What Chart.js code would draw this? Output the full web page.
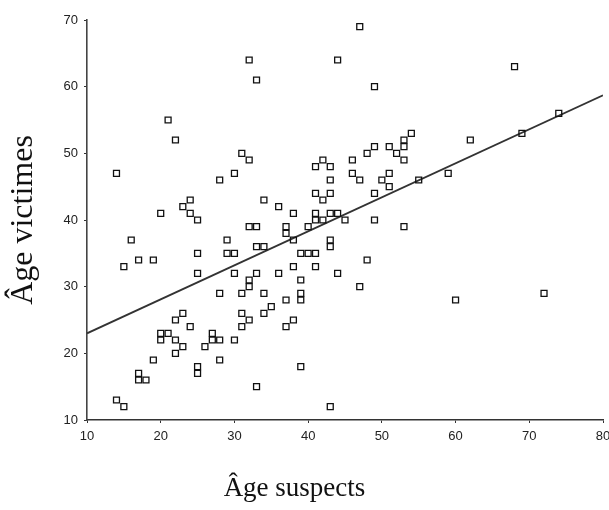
<!DOCTYPE html>
<html>
<head>
<meta charset="utf-8">
<script src="https://cdn.jsdelivr.net/npm/chart.js@4/dist/chart.umd.min.js"></script>
<style>
  html, body { margin: 0; padding: 0; background: #fff; overflow: hidden; width: 609px; height: 510px; }
  #wrap { position: relative; width: 609px; height: 510px; }
  #xTitle {
    position: absolute; left: 0; top: 472px; width: 589px; text-align: center;
    font-family: "Liberation Serif", "DejaVu Serif", serif; font-size: 27px; line-height: 30px; color: #111;
  }
</style>
</head>
<body>
<div id="wrap">
  <canvas id="chart" width="620" height="510"></canvas>
  <div id="xTitle">Âge suspects</div>
</div>
<script>
// ages (suspect age, victim age)
const suspectAges = [
  21, 22, 14, 31, 32, 30, 28, 24, 23, 24, 25, 20, 34, 36, 32, 33, 37, 37, 16, 29,
  29, 30, 33, 34, 25, 17, 19, 15, 25, 30, 33, 36, 32, 32, 31, 28, 34, 37, 35, 34,
  23, 22, 31, 32, 31, 24, 37, 20, 21, 20, 22, 23, 22, 27, 27, 28, 26, 30, 19, 28,
  17, 17, 18, 25, 25, 33, 14, 15,
  49, 62, 54, 53, 53, 51, 52, 53, 49, 48, 46, 46, 47, 42, 41, 43, 43, 41, 42, 43,
  51, 50, 51, 49, 55, 59, 38, 38, 40, 41, 41, 42, 43, 44, 45, 49, 53, 43, 43, 39,
  40, 41, 38, 41, 44, 48, 39, 39, 39, 47, 38, 39, 43, 60, 72, 68, 74, 69, 47, 32,
  33, 44
];
const victimAges = [
  55, 52, 47, 50, 49, 47, 46, 43, 42, 41, 40, 41, 43, 42, 39, 39, 39, 38, 37, 37,
  35, 35, 36, 36, 35, 34, 34, 33, 32, 32, 32, 32, 31, 30, 29, 29, 29, 28, 27, 26,
  26, 25, 26, 25, 24, 24, 24, 23, 23, 22, 22, 21, 20, 23, 22, 22, 21, 22, 19, 19,
  17, 16, 16, 18, 17, 15, 13, 12,
  60, 52, 53, 52, 51, 51, 50, 49, 51, 50, 49, 47, 46, 49, 48, 48, 46, 44, 43, 44,
  47, 46, 45, 44, 46, 47, 41, 37, 39, 41, 40, 40, 41, 41, 40, 40, 39, 37, 36, 35,
  35, 35, 33, 33, 32, 34, 31, 29, 28, 30, 25, 18, 12, 28, 29, 63, 56, 53, 69, 64,
  61, 64
];

// fitted line, end points
const fitX = [10, 80];
const fitY = [23.0, 58.7];

const xTicks = [10, 20, 30, 40, 50, 60, 70, 80];
const yTicks = [10, 20, 30, 40, 50, 60, 70];

const points = suspectAges.map((x, i) => ({ x: x, y: victimAges[i] }));
const fitLine = fitX.map((x, i) => ({ x: x, y: fitY[i] }));

const tickFont = { family: '"Liberation Sans", Arial, sans-serif', size: 13 };

new Chart(document.getElementById('chart'), {
  type: 'scatter',
  data: {
    datasets: [
      {
        data: points,
        pointStyle: 'rect',
        pointRadius: 4.2,
        borderWidth: 1.3,
        borderColor: '#111',
        backgroundColor: 'rgba(255,255,255,0)'
      },
      {
        data: fitLine,
        showLine: true,
        pointRadius: 0,
        borderColor: '#333',
        borderWidth: 1.8
      }
    ]
  },
  options: {
    responsive: false,
    animation: false,
    devicePixelRatio: 1,
    layout: { padding: { top: 20, right: 17, left: 0, bottom: 0 } },
    plugins: { legend: { display: false }, tooltip: { enabled: false } },
    scales: {
      x: {
        type: 'linear',
        min: 10,
        max: 80,
        afterBuildTicks: scale => { scale.ticks = xTicks.map(v => ({ value: v })); },
        afterFit: scale => { scale.height = 90; },
        grid: { drawOnChartArea: false, tickLength: 3, color: '#333' },
        border: { color: '#333', width: 1.6 },
        ticks: { font: tickFont, color: '#222', padding: 6, maxRotation: 0 }
      },
      y: {
        type: 'linear',
        min: 10,
        max: 70,
        afterBuildTicks: scale => { scale.ticks = yTicks.map(v => ({ value: v })); },
        afterFit: scale => { scale.width = 87; },
        grid: { drawOnChartArea: false, tickLength: 3, color: '#333' },
        border: { color: '#444', width: 1.6 },
        ticks: { font: tickFont, color: '#222', padding: 6 },
        title: {
          display: true,
          text: 'Âge victimes',
          color: '#111',
          font: { family: '"Liberation Serif", "DejaVu Serif", serif', size: 32 },
          padding: { top: 4, bottom: 0 }
        }
      }
    }
  }
});
</script>
</body>
</html>
